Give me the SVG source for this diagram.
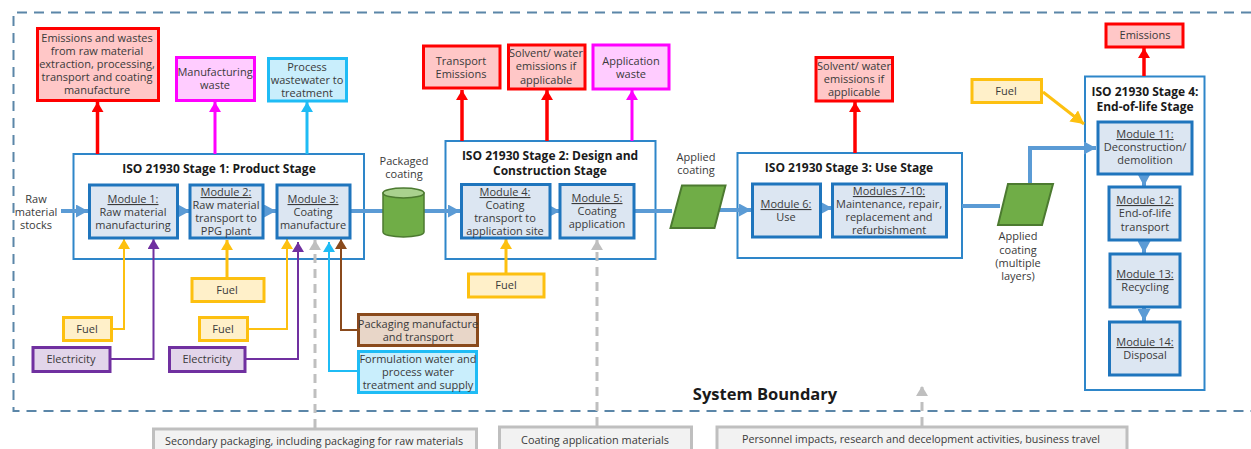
<svg xmlns="http://www.w3.org/2000/svg" width="1251" height="449" viewBox="0 0 1251 449">
<style>
text{font-family:"Open Sans","Liberation Sans",sans-serif;font-size:11px;fill:#3a3a3a;text-anchor:middle}
.h{font-weight:700;font-size:12px;fill:#1a1a1a}
.u{text-decoration:underline}
rect{stroke-width:3}
.stage{fill:#fff;stroke:#2e86c9;stroke-width:2}
.mod{fill:#dce6f2;stroke:#1f75bd;stroke-width:3}
.red{fill:#ffc7c7;stroke:#f00}
.mag{fill:#ffccff;stroke:#f0f}
.cya{fill:#c9eefc;stroke:#1fbcf5}
.yel{fill:#fff0c9;stroke:#fdc010}
.pur{fill:#e2d5ea;stroke:#7030a0}
.bro{fill:#e8d6c8;stroke:#8a4a1c}
.gry{fill:#f2f2f2;stroke:#bfbfbf}
.grn{fill:#70ad47;stroke:#4c7a30;stroke-width:2}
.c{fill:none}
.fl{stroke:#5b9bd5;stroke-width:4}
.r{stroke:#f00;stroke-width:3.5}
.m{stroke:#f0f;stroke-width:3}
.cy{stroke:#1fbcf5;stroke-width:2}
.cyb{stroke:#1fbcf5;stroke-width:3}
.y{stroke:#fdc010;stroke-width:2}
.yb{stroke:#fdc010;stroke-width:3}
.p{stroke:#7030a0;stroke-width:2}
.b{stroke:#8a4a1c;stroke-width:2}
.g{stroke:#bfbfbf;stroke-width:3;stroke-dasharray:9 6}
</style>
<defs>
<marker id="ar" markerUnits="userSpaceOnUse" viewBox="0 0 10 12" refX="10" refY="6" markerWidth="10" markerHeight="12" orient="auto"><path d="M0 0L10 6L0 12Z" fill="#f00"/></marker>
<marker id="am" markerUnits="userSpaceOnUse" viewBox="0 0 10 12" refX="10" refY="6" markerWidth="10" markerHeight="12" orient="auto"><path d="M0 0L10 6L0 12Z" fill="#f0f"/></marker>
<marker id="ac" markerUnits="userSpaceOnUse" viewBox="0 0 10 12" refX="10" refY="6" markerWidth="10" markerHeight="12" orient="auto"><path d="M0 0L10 6L0 12Z" fill="#1fbcf5"/></marker>
<marker id="ay" markerUnits="userSpaceOnUse" viewBox="0 0 10 12" refX="10" refY="6" markerWidth="10" markerHeight="12" orient="auto"><path d="M0 0L10 6L0 12Z" fill="#fdc010"/></marker>
<marker id="ayl" markerUnits="userSpaceOnUse" viewBox="0 0 13 14" refX="13" refY="7" markerWidth="13" markerHeight="14" orient="auto"><path d="M0 0L13 7L0 14Z" fill="#fdc010"/></marker>
<marker id="ap" markerUnits="userSpaceOnUse" viewBox="0 0 10 12" refX="10" refY="6" markerWidth="10" markerHeight="12" orient="auto"><path d="M0 0L10 6L0 12Z" fill="#7030a0"/></marker>
<marker id="ab" markerUnits="userSpaceOnUse" viewBox="0 0 10 12" refX="10" refY="6" markerWidth="10" markerHeight="12" orient="auto"><path d="M0 0L10 6L0 12Z" fill="#8a4a1c"/></marker>
<marker id="ag" markerUnits="userSpaceOnUse" viewBox="0 0 10 12" refX="10" refY="6" markerWidth="10" markerHeight="12" orient="auto"><path d="M0 0L10 6L0 12Z" fill="#bfbfbf"/></marker>
<marker id="af" markerUnits="userSpaceOnUse" viewBox="0 0 12 13" refX="12" refY="6.5" markerWidth="12" markerHeight="13" orient="auto"><path d="M0 0L12 6.500L0 13Z" fill="#5b9bd5"/></marker>
</defs>

<path id="boundary" d="M1251 12.5H13.5V411H1251" fill="none" stroke="#5b86a8" stroke-width="2" stroke-dasharray="10 7"/>

<g id="stage1"><rect class="stage" x="73.5" y="154" width="290.5" height="105"/><text class="h" x="219" y="173">ISO 21930  Stage 1: Product Stage</text></g>
<g id="stage2"><rect class="stage" x="445.5" y="141" width="210" height="118"/><text class="h" x="550" y="160">ISO 21930  Stage 2: Design and</text><text class="h" x="550" y="175">Construction Stage</text></g>
<g id="stage3"><rect class="stage" x="737.5" y="153" width="224.5" height="105"/><text class="h" x="849" y="172">ISO 21930  Stage 3: Use Stage</text></g>
<g id="stage4"><rect class="stage" x="1085" y="76.5" width="119.5" height="313.5"/><text class="h" x="1145" y="96">ISO 21930  Stage 4:</text><text class="h" x="1145" y="111">End-of-life Stage</text></g>

<g id="connectors" class="c">
<path class="fl" d="M61 211H88" marker-end="url(#af)"/>
<path class="fl" d="M178 211H190" marker-end="url(#af)"/>
<path class="fl" d="M264 211H276" marker-end="url(#af)"/>
<path class="fl" d="M350 211H383"/>
<path class="fl" d="M424 211H460" marker-end="url(#af)"/>
<path class="fl" d="M551 211H560" marker-end="url(#af)"/>
<path class="fl" d="M634 211H672"/>
<path class="fl" d="M718 210H751" marker-end="url(#af)"/>
<path class="fl" d="M822 208H832" marker-end="url(#af)"/>
<path class="fl" d="M962 206H1000"/>
<path class="fl" d="M1030 184V148H1096" marker-end="url(#af)"/>
<path class="fl" d="M1144 175V186" marker-end="url(#af)"/>
<path class="fl" d="M1144 241V253" marker-end="url(#af)"/>
<path class="fl" d="M1144 308V321" marker-end="url(#af)"/>
<path class="r" d="M97.5 154V102" marker-end="url(#ar)"/>
<path class="m" d="M215 154V102" marker-end="url(#am)"/>
<path class="cyb" d="M307 154V102" marker-end="url(#ac)"/>
<path class="r" d="M462 141V90" marker-end="url(#ar)"/>
<path class="r" d="M547 141V90" marker-end="url(#ar)"/>
<path class="m" d="M632 141V90" marker-end="url(#am)"/>
<path class="r" d="M855 153V102" marker-end="url(#ar)"/>
<path class="r" d="M1144 76V48" marker-end="url(#ar)"/>
<path class="y" d="M112 329H124V239" marker-end="url(#ay)"/>
<path class="p" d="M110 359H153.5V239" marker-end="url(#ap)"/>
<path class="yb" d="M227 278V240" marker-end="url(#ay)"/>
<path class="y" d="M248 329H287V239" marker-end="url(#ay)"/>
<path class="p" d="M245 359H298V242" marker-end="url(#ap)"/>
<path class="g" d="M315 428V240" marker-end="url(#ag)"/>
<path class="cy" d="M358 371H329V242" marker-end="url(#ac)"/>
<path class="b" d="M358 330H341V239" marker-end="url(#ab)"/>
<path class="yb" d="M506 274V239" marker-end="url(#ay)"/>
<path class="g" d="M597 426V240" marker-end="url(#ag)"/>
<path class="g" d="M922 426V386" stroke-dasharray="none" marker-end="url(#ag)"/>
<path class="yb" d="M1043 92L1084 124" marker-end="url(#ayl)"/>
</g>

<g id="raw-stocks"><text x="36" y="203">Raw</text><text x="36" y="216">material</text><text x="36" y="229">stocks</text></g>
<g id="emissions-1"><rect class="red" x="37.5" y="28.5" width="121" height="72"/><text x="97" y="42">Emissions and wastes</text><text x="97" y="55">from raw material</text><text x="97" y="68">extraction, processing,</text><text x="97" y="81">transport and coating</text><text x="97" y="94">manufacture</text></g>
<g id="mfg-waste"><rect class="mag" x="176.5" y="57.5" width="78" height="43"/><text x="215" y="76">Manufacturing</text><text x="215" y="89">waste</text></g>
<g id="process-wastewater"><rect class="cya" x="268.5" y="58.5" width="78" height="42.500"/><text x="307" y="71">Process</text><text x="307" y="84">wastewater to</text><text x="307" y="97">treatment</text></g>
<g id="module1"><rect class="mod" x="89.500" y="185" width="88" height="53"/><text class="u" x="133" y="203">Module 1:</text><text x="133" y="216">Raw material</text><text x="133" y="229">manufacturing</text></g>
<g id="module2"><rect class="mod" x="190" y="185" width="73" height="53"/><text class="u" x="226" y="196">Module 2:</text><text x="226" y="209">Raw material</text><text x="226" y="222">transport to</text><text x="226" y="235">PPG plant</text></g>
<g id="module3"><rect class="mod" x="277" y="185" width="73" height="53"/><text class="u" x="313" y="203">Module 3:</text><text x="313" y="216">Coating</text><text x="313" y="229">manufacture</text></g>
<g id="packaged-coating"><text x="404" y="165">Packaged</text><text x="404" y="178">coating</text><path d="M383 193V232A20.500 5 0 0 0 424 232V193Z" fill="#70ad47" stroke="#4c7a30" stroke-width="1.500"/><ellipse cx="403.500" cy="193" rx="20.500" ry="5" fill="#a9d18e" stroke="#4c7a30" stroke-width="1.500"/></g>
<g id="fuel-1"><rect class="yel" x="63.500" y="317.500" width="48" height="23"/><text x="87" y="333">Fuel</text></g>
<g id="electricity-1"><rect class="pur" x="33" y="347.500" width="77" height="24"/><text x="71" y="363">Electricity</text></g>
<g id="fuel-2"><rect class="yel" x="192" y="278.500" width="72" height="23"/><text x="227" y="294">Fuel</text></g>
<g id="fuel-3"><rect class="yel" x="199.500" y="317.500" width="48" height="23"/><text x="223" y="333">Fuel</text></g>
<g id="electricity-2"><rect class="pur" x="169.500" y="347.500" width="75.500" height="24"/><text x="207" y="363">Electricity</text></g>
<g id="packaging"><rect class="bro" x="358.500" y="314.500" width="119" height="31"/><text x="418" y="328">Packaging manufacture</text><text x="418" y="341">and transport</text></g>
<g id="formulation-water"><rect class="cya" x="358.500" y="351.500" width="118" height="41"/><text x="418" y="363">Formulation water and</text><text x="418" y="376">process water</text><text x="418" y="389">treatment and supply</text></g>

<g id="transport-emissions"><rect class="red" x="423.500" y="46" width="76.500" height="42"/><text x="461" y="65">Transport</text><text x="461" y="78">Emissions</text></g>
<g id="solvent-1"><rect class="red" x="508.500" y="45" width="76.500" height="44"/><text x="546" y="57">Solvent/ water</text><text x="546" y="70">emissions if</text><text x="546" y="84">applicable</text></g>
<g id="application-waste"><rect class="mag" x="593" y="45" width="76" height="44"/><text x="631" y="65">Application</text><text x="631" y="78">waste</text></g>
<g id="module4"><rect class="mod" x="461.500" y="184.500" width="88.500" height="53.500"/><text class="u" x="505" y="196">Module 4:</text><text x="505" y="209">Coating</text><text x="505" y="222">transport to</text><text x="505" y="235">application site</text></g>
<g id="module5"><rect class="mod" x="560" y="184.500" width="74" height="53.500"/><text class="u" x="597" y="202">Module 5:</text><text x="597" y="215">Coating</text><text x="597" y="228">application</text></g>
<g id="fuel-4"><rect class="yel" x="468.500" y="274" width="75.500" height="23"/><text x="506" y="289">Fuel</text></g>
<g id="applied-coating"><text x="696" y="161">Applied</text><text x="696" y="174">coating</text><path class="grn" d="M682 185.500H725.500L714.500 228H670.500Z"/></g>

<g id="solvent-2"><rect class="red" x="816" y="57.500" width="76.500" height="43.500"/><text x="854" y="70">Solvent/ water</text><text x="854" y="83">emissions if</text><text x="854" y="96">applicable</text></g>
<g id="module6"><rect class="mod" x="752.500" y="184" width="68" height="53"/><text class="u" x="786" y="208">Module 6:</text><text x="786" y="221">Use</text></g>
<g id="modules7-10"><rect class="mod" x="832.500" y="184" width="114" height="53"/><text class="u" x="889" y="195">Modules 7-10:</text><text x="889" y="208">Maintenance, repair,</text><text x="889" y="221">replacement and</text><text x="889" y="234">refurbishment</text></g>
<g id="applied-coating-multi"><path class="grn" d="M1008 184H1053L1042 225H998Z"/><text x="1018" y="240">Applied</text><text x="1018" y="254">coating</text><text x="1018" y="267">(multiple</text><text x="1018" y="280">layers)</text></g>
<g id="fuel-5"><rect class="yel" x="972" y="79.500" width="69.500" height="23"/><text x="1006" y="95">Fuel</text></g>
<g id="emissions-2"><rect class="red" x="1106" y="24" width="77" height="23"/><text x="1145" y="39">Emissions</text></g>
<g id="module11"><rect class="mod" x="1098" y="122" width="94" height="52"/><text class="u" x="1145" y="138">Module 11:</text><text x="1145" y="151">Deconstruction/</text><text x="1145" y="164">demolition</text></g>
<g id="module12"><rect class="mod" x="1109" y="187" width="71" height="53"/><text class="u" x="1145" y="204">Module 12:</text><text x="1145" y="217">End-of-life</text><text x="1145" y="231">transport</text></g>
<g id="module13"><rect class="mod" x="1110" y="254" width="70" height="53"/><text class="u" x="1145" y="278">Module 13:</text><text x="1145" y="291">Recycling</text></g>
<g id="module14"><rect class="mod" x="1109.500" y="322" width="70.500" height="53"/><text class="u" x="1145" y="346">Module 14:</text><text x="1145" y="359">Disposal</text></g>

<text class="h" x="765" y="400" style="font-size:16.5px">System Boundary</text>
<g id="secondary-packaging"><rect class="gry" x="153.500" y="429" width="323" height="30"/><text x="314" y="445" textLength="298" lengthAdjust="spacingAndGlyphs">Secondary packaging, including packaging for raw materials</text></g>
<g id="coating-materials"><rect class="gry" x="499.500" y="427" width="192" height="32"/><text x="595" y="444" textLength="148" lengthAdjust="spacingAndGlyphs">Coating application materials</text></g>
<g id="personnel"><rect class="gry" x="717" y="427" width="410" height="32"/><text x="921" y="443" textLength="358" lengthAdjust="spacingAndGlyphs">Personnel impacts, research and decelopment activities, business travel</text></g>
</svg>
